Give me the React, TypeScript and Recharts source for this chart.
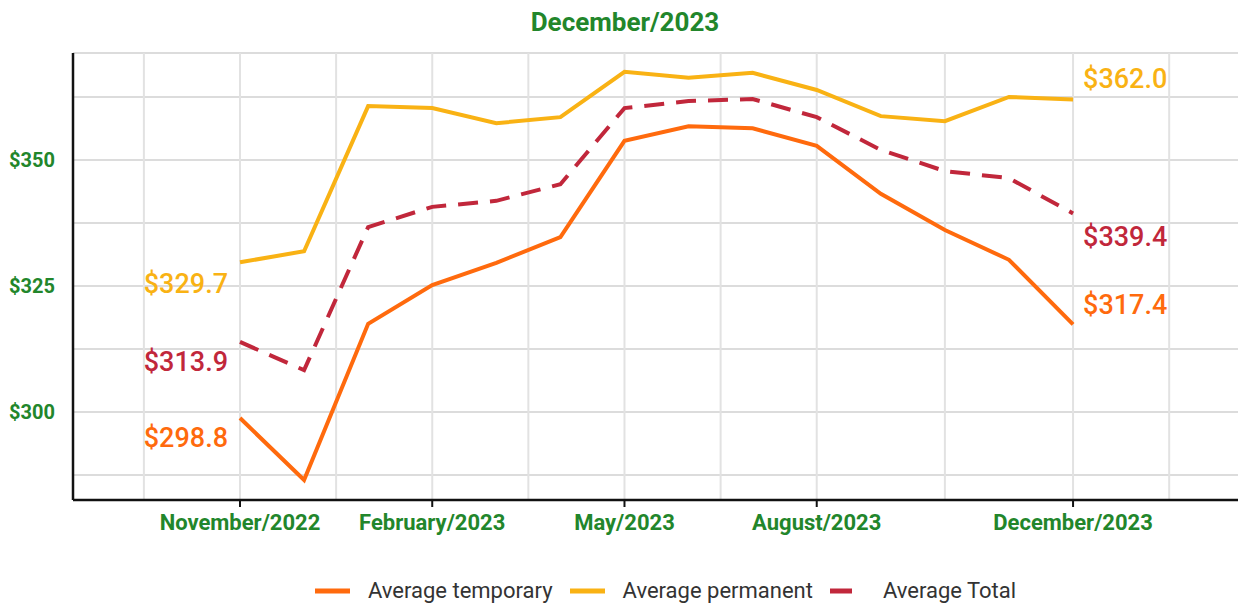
import React from 'react';
import {
  LineChart,
  Line,
  XAxis,
  YAxis,
  CartesianGrid,
  ReferenceLine,
} from 'recharts';

const months = [
  'November/2022',
  'December/2022',
  'January/2023',
  'February/2023',
  'March/2023',
  'April/2023',
  'May/2023',
  'June/2023',
  'July/2023',
  'August/2023',
  'September/2023',
  'October/2023',
  'November/2023',
  'December/2023',
];

const temporary = [298.8, 286.5, 317.5, 325.2, 329.6, 334.7, 353.8, 356.7, 356.3, 352.8, 343.3, 336.1, 330.2, 317.4];
const permanent = [329.7, 331.9, 360.7, 360.3, 357.3, 358.5, 367.5, 366.3, 367.3, 363.9, 358.7, 357.7, 362.5, 362.0];
const total = [313.9, 308.3, 336.7, 340.7, 341.9, 345.2, 360.3, 361.7, 362.1, 358.5, 352.0, 347.8, 346.4, 339.4];

const xTicks = [0, 3, 6, 9, 13];
const xGrid = [-1.5, 0, 1.5, 3, 4.5, 6, 7.5, 9, 11, 13, 14.5];
const yTicks = [287.5, 300, 312.5, 325, 337.5, 350, 362.5];

const GREEN = '#22862b';
const FONT = 'Roboto, "Noto Sans", sans-serif';

const series = [
  { key: 'temporary', label: 'Average temporary', color: '#ff6a0d', dash: undefined, firstDy: 20, lastDy: -20 },
  { key: 'permanent', label: 'Average permanent', color: '#f9b214', dash: undefined, firstDy: 21, lastDy: -21 },
  { key: 'total', label: 'Average Total', color: '#c1273b', dash: '20 12', firstDy: 20, lastDy: 23 },
];

const data = months.map((m, i) => ({
  idx: i,
  month: m,
  temporary: temporary[i],
  permanent: permanent[i],
  total: total[i],
}));

function endLabel(props: any, s: (typeof series)[number]) {
  const { x, y, index, value } = props;
  const last = data.length - 1;
  if (index !== 0 && index !== last) return null;
  const isFirst = index === 0;
  return (
    <text
      key={`${s.key}-${index}`}
      x={isFirst ? x - 12 : x + 10}
      y={y + (isFirst ? s.firstDy : s.lastDy)}
      dy="0.35em"
      textAnchor={isFirst ? 'end' : 'start'}
      fill={s.color}
      fontSize={27}
      fontWeight={500}
      fontFamily={FONT}
    >
      {`$${Number(value).toFixed(1)}`}
    </text>
  );
}

export default function App() {
  return (
    <div style={{ position: 'absolute', left: 0, top: 0, width: 1238, height: 605, background: '#fff', overflow: 'hidden', fontFamily: FONT }}>
      <div
        style={{
          position: 'absolute',
          top: 7,
          left: 0,
          width: 1250,
          textAlign: 'center',
          color: GREEN,
          fontWeight: 700,
          fontSize: 26,
          lineHeight: '30px',
        }}
      >
        December/2023
      </div>
      <LineChart width={1238} height={605} data={data} margin={{ top: 53, right: 0, left: 0, bottom: 0 }}>
        <CartesianGrid vertical={false} stroke="#dcdcdc" strokeWidth={2} />
        {xGrid.map((g) => (
          <ReferenceLine key={g} x={g} stroke="#e2e2e2" strokeWidth={2} />
        ))}
        <XAxis
          dataKey="idx"
          type="number"
          domain={[-2.606, 15.574]}
          ticks={xTicks}
          tickFormatter={(i: number) => months[i]}
          height={105}
          tickSize={7}
          tickMargin={7}
          axisLine={{ stroke: '#111', strokeWidth: 2.5 }}
          tickLine={{ stroke: '#111', strokeWidth: 2 }}
          tick={{ fill: GREEN, fontSize: 22, fontWeight: 700, fontFamily: FONT }}
          interval={0}
        />
        <YAxis
          type="number"
          domain={[282.54, 371.23]}
          ticks={yTicks}
          tickFormatter={(v: number) => (v % 25 === 0 ? `$${v}` : '')}
          width={73}
          tickSize={0}
          tickMargin={18}
          tickLine={false}
          axisLine={{ stroke: '#111', strokeWidth: 2.5 }}
          tick={{ fill: GREEN, fontSize: 20, fontWeight: 700, fontFamily: FONT }}
          interval={0}
        />
        {series.map((s) => (
          <Line
            key={s.key}
            type="linear"
            dataKey={s.key}
            name={s.label}
            stroke={s.color}
            strokeWidth={4}
            strokeDasharray={s.dash}
            dot={false}
            activeDot={false}
            isAnimationActive={false}
            label={(p: any) => endLabel(p, s)}
          />
        ))}
      </LineChart>
      <div
        style={{
          position: 'absolute',
          top: 578,
          left: 315,
          display: 'flex',
          alignItems: 'center',
          fontSize: 22,
          lineHeight: '25px',
          color: '#333',
          whiteSpace: 'nowrap',
        }}
      >
        {series.map((s) => (
          <div key={s.key} style={{ display: 'flex', alignItems: 'center', marginRight: 17 }}>
            <svg width={35} height={8} style={{ marginRight: 18 }}>
              <line
                x1={0}
                y1={4}
                x2={s.dash ? 22 : 35}
                y2={4}
                stroke={s.color}
                strokeWidth={5}
              />
            </svg>
            <span>{s.label}</span>
          </div>
        ))}
      </div>
    </div>
  );
}
